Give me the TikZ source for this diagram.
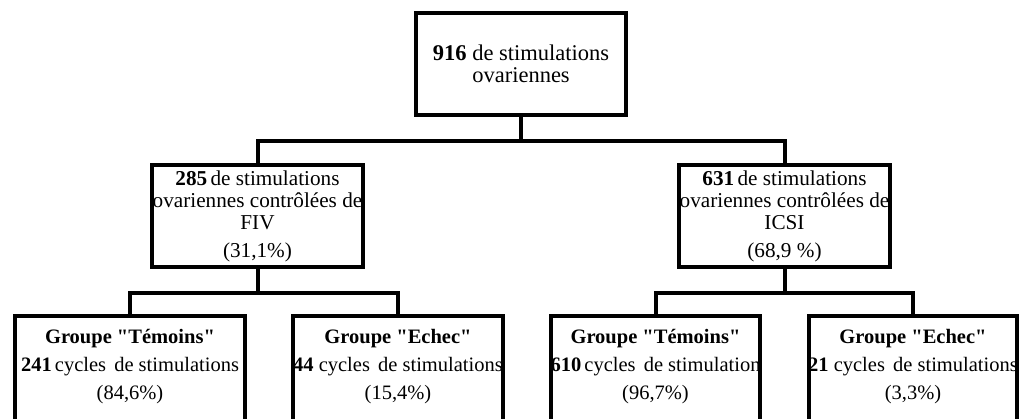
\documentclass[tikz,border=0pt]{standalone}
\usepackage{fontspec}
\setmainfont{Liberation Serif}
\newfontfamily\tnr{Liberation Serif}
\begin{document}
\begin{tikzpicture}[x=1pt,y=-1pt,
  box/.style={draw, line width=4pt, rectangle, inner sep=0pt, align=center,
    font=\tnr\fontsize{21.2}{22}\selectfont},
  bbox/.style={draw, line width=4pt, rectangle, inner sep=0pt},
  btext/.style={inner sep=0pt, align=center, anchor=north, font=\tnr\fontsize{20.5}{28}\selectfont},
  link/.style={line width=4pt}]
\clip (0,0) rectangle (1021,419);
\node[box, minimum width=210, minimum height=102, font=\tnr\fontsize{22.5}{22}\selectfont] (top) at (521,64)
  {\textbf{916} de stimulations\\ovariennes};
\node[box, minimum width=211, minimum height=102] (fiv) at (257.5,216)
  {\textbf{285}\hspace{-2pt} de stimulations\\ovariennes contrôlées de\\FIV\\[6pt](31,1\%)};
\node[box, minimum width=211, minimum height=102] (icsi) at (784.5,216)
  {\textbf{631}\hspace{-2pt} de stimulations\\ovariennes contrôlées de\\ICSI\\[6pt](68,9 \%)};
\node[bbox, minimum width=230, minimum height=144] (t1) at (130,388) {};
\node[bbox, minimum width=210, minimum height=144] (t2) at (398,388) {};
\node[bbox, minimum width=209, minimum height=144] (t3) at (655.5,388) {};
\node[bbox, minimum width=208, minimum height=144] (t4) at (913,388) {};
\node[btext] (x1) at (130,329) {\textbf{Groupe "Témoins"}\\\textbf{241}\hspace{-2pt} cycles\hspace{3pt} de stimulations\\(84,6\%)};
\node[btext] (x2) at (398,329) {\textbf{Groupe "Echec"}\\\textbf{44} cycles\hspace{3pt} de stimulations\\(15,4\%)};
\node[btext] (x3) at (655.5,329) {\textbf{Groupe "Témoins"}\\\textbf{610}\hspace{-2pt} cycles\hspace{3pt} de stimulation\\(96,7\%)};
\node[btext] (x4) at (913,329) {\textbf{Groupe "Echec"}\\\textbf{21} cycles\hspace{3pt} de stimulations\\(3,3\%)};
\draw[link] (top.south) -- (top.south |- 0,141) -| (fiv.north);
\draw[link] (top.south) -- (top.south |- 0,141) -| (icsi.north);
\draw[link] (fiv.south) -- (fiv.south |- 0,293) -| (t1.north);
\draw[link] (fiv.south) -- (fiv.south |- 0,293) -| (t2.north);
\draw[link] (icsi.south) -- (icsi.south |- 0,293) -| (t3.north);
\draw[link] (icsi.south) -- (icsi.south |- 0,293) -| (t4.north);
\end{tikzpicture}
\end{document}
